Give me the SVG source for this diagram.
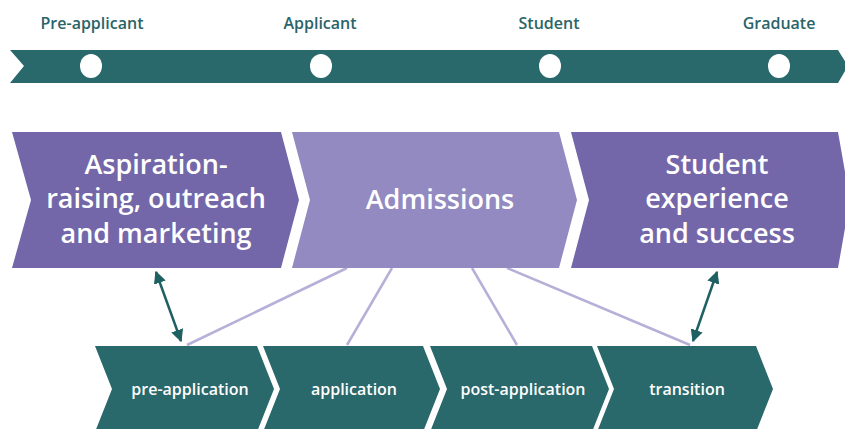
<svg xmlns="http://www.w3.org/2000/svg" width="845" height="429" viewBox="0 0 845 429">
<defs>
<style>
.stage{font-family:"Open Sans","Noto Sans",sans-serif;font-size:16px;font-weight:600;fill:#2a6468;text-anchor:middle}
.big{font-family:"Open Sans","Noto Sans",sans-serif;font-size:27px;font-weight:600;fill:#ffffff;text-anchor:middle}
.small{font-family:"Open Sans","Noto Sans",sans-serif;font-size:16px;font-weight:600;fill:#ffffff;text-anchor:middle}
.teal{fill:#29686b}
.dark{fill:#7367a9}
.light{fill:#928ac1}
.link{stroke:#b5b0d8;stroke-width:2.5;fill:none}
.arr{stroke:#1f6062;stroke-width:2.5;fill:none;marker-start:url(#ah);marker-end:url(#ah)}
</style>
<marker id="ah" viewBox="0 0 10 10" refX="9" refY="5" markerWidth="5" markerHeight="5" orient="auto-start-reverse" markerUnits="strokeWidth">
<path d="M0,0 L10,5 L0,10 z" fill="#1f6062"/>
</marker>
</defs>
<rect width="845" height="429" fill="#ffffff"/>
<g id="timeline">
<polygon class="teal" points="10,50 838,50 848,66 838,83 10,83 24,66"/>
<ellipse cx="91" cy="66" rx="11" ry="12" fill="#ffffff"/>
<ellipse cx="321" cy="66" rx="11" ry="12" fill="#ffffff"/>
<ellipse cx="550" cy="66" rx="11" ry="12" fill="#ffffff"/>
<ellipse cx="779" cy="66" rx="11" ry="12" fill="#ffffff"/>
<text class="stage" x="92" y="29">Pre-applicant</text>
<text class="stage" x="320" y="29">Applicant</text>
<text class="stage" x="549" y="29">Student</text>
<text class="stage" x="779" y="29">Graduate</text>
</g>
<g id="connectors">
<line class="link" x1="347" y1="268" x2="187" y2="345"/>
<line class="link" x1="392" y1="268" x2="347" y2="345"/>
<line class="link" x1="472" y1="268" x2="517" y2="345"/>
<line class="link" x1="507" y1="268" x2="690" y2="345"/>
<line class="arr" x1="156" y1="272" x2="181" y2="341"/>
<line class="arr" x1="717" y1="272" x2="693" y2="341"/>
</g>
<g id="aspiration">
<polygon class="dark" points="12,132 281,132 299,200 281,268 12,268 31,200"/>
<text class="big" x="156" y="174">Aspiration-</text>
<text class="big" x="156" y="208">raising, outreach</text>
<text class="big" x="156" y="243">and marketing</text>
</g>
<g id="admissions">
<polygon class="light" points="292,132 559,132 577,200 559,268 292,268 310,200"/>
<text class="big" x="440" y="209">Admissions</text>
</g>
<g id="student-experience">
<polygon class="dark" points="571,132 838,132 850,200 838,268 571,268 589,200"/>
<text class="big" x="717" y="174">Student</text>
<text class="big" x="717" y="208">experience</text>
<text class="big" x="717" y="243">and success</text>
</g>
<g id="pre-application">
<polygon class="teal" points="95,346 257,346 274,389 257,432 95,432 112,389"/>
<text class="small" x="190" y="395">pre-application</text>
</g>
<g id="application">
<polygon class="teal" points="263,346 423,346 440,389 423,432 263,432 280,389"/>
<text class="small" x="354" y="395">application</text>
</g>
<g id="post-application">
<polygon class="teal" points="430,346 592,346 609,389 592,432 430,432 447,389"/>
<text class="small" x="523" y="395">post-application</text>
</g>
<g id="transition">
<polygon class="teal" points="597,346 756,346 773,389 756,432 597,432 614,389"/>
<text class="small" x="687" y="395">transition</text>
</g>
</svg>
